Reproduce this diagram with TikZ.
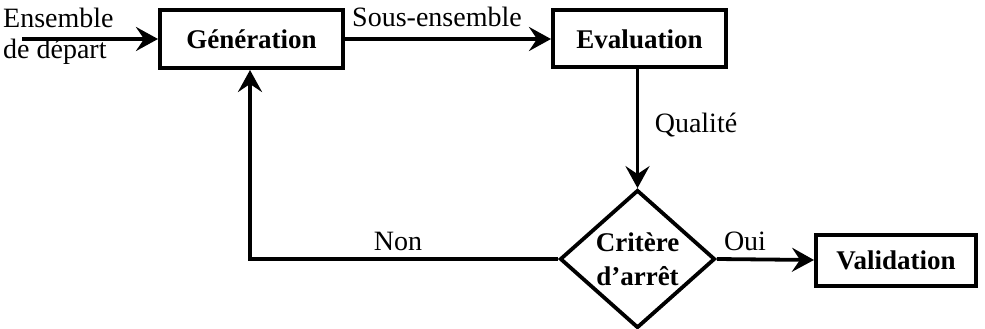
\documentclass[tikz,border=0pt]{standalone}
\usepackage{fontspec}
\setmainfont{Liberation Serif}
\usetikzlibrary{shapes.geometric,arrows.meta}
\begin{document}
\begin{tikzpicture}[x=1pt,y=-1pt,
  txt/.style={font=\fontsize{28}{28}\selectfont, inner sep=0pt},
  boxnode/.style={draw, line width=4pt, font=\fontsize{27}{30}\selectfont\bfseries, inner sep=0pt},
  flow/.style={line width=3.8pt, -{Stealth[length=22pt,width=24pt,inset=8pt]}}]
\useasboundingbox (0,0) rectangle (985,329);

% process boxes
\node[boxnode, minimum width=183pt, minimum height=58pt] (gen) at (251.5,39) {Génération};
\node[boxnode, minimum width=173pt, minimum height=57pt] (eval) at (639.5,39) {Evaluation};
\node[boxnode, minimum width=160pt, minimum height=51pt] (valid) at (896,260) {Validation};

% decision
\node[draw, diamond, line width=3.8pt, minimum width=155pt, minimum height=138pt, inner sep=0pt,
      align=center, font=\fontsize{27}{34}\selectfont\bfseries] (crit) at (637.5,259) {Critère\\d’arrêt};

% connectors
\coordinate (in) at (22,39);
\coordinate (corner) at (250,259);
\draw[flow] (in) -- (gen.west);
\draw[flow] (gen.east) -- (eval.west);
\draw[flow] (eval.south -| crit.north) -- (crit.north);
\draw[flow] (crit.east) -- (valid.west);
\draw[flow] (crit.west) -- (corner) -- (corner |- gen.south);

% labels
\node[txt, font=\fontsize{28}{31}\selectfont, align=left, anchor=north west] (lin) at (3,8) {Ensemble\\de départ};
\node[txt] (lsub) at (437,17) {Sous-ensemble};
\node[txt] (lqual) at (696,125) {Qualité};
\node[txt] (lnon) at (398,241) {Non};
\node[txt] (loui) at (745,241) {Oui};
\end{tikzpicture}
\end{document}
